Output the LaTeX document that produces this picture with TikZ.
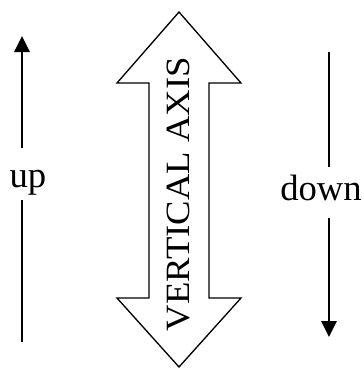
\documentclass[tikz,border=0pt]{standalone}
\usepackage{fontspec}
\setmainfont{Liberation Serif}
\usetikzlibrary{arrows.meta, positioning}

\begin{document}
\begin{tikzpicture}[x=0.75pt, y=-0.75pt,
    thinline/.style={line width=1.5pt},
    thinarrow/.style={thinline, -{Triangle[length=12pt, width=11.5pt]}},
    word/.style={font=\fontsize{27.5}{30}\selectfont, inner sep=0pt}]
    \useasboundingbox (0,0) rectangle (364,369);
    % left arrow, broken by its label
    \node[word, anchor=base] (up) at (28,187) {up};
    \coordinate (upTip) at (22,36);
    \coordinate (upGapA) at (22,148);
    \coordinate (upGapB) at (22,200);
    \coordinate (upFoot) at (22,342);
    \draw[thinarrow] (upGapA) -- (upTip);
    \draw[thinline] (upFoot) -- (upGapB);
    % big double arrow in the middle
    \draw[line width=1pt, line join=miter] (179,12) -- (241,83) -- (209,83) -- (209,298)
        -- (241,298) -- (179,367) -- (117,298) -- (149,298) -- (149,83) -- (117,83) -- cycle;
    \node[rotate=90, xscale=1.08, inner sep=0pt, font=\fontsize{25.5}{28}\selectfont] (axis) at (179,194) {VERTICAL AXIS};
    % right arrow, broken by its label
    \node[word, anchor=base] (down) at (321,200) {down};
    \coordinate (downTop) at (329,52);
    \coordinate (downGapA) at (329,167);
    \coordinate (downGapB) at (329,218);
    \coordinate (downTip) at (329,337);
    \draw[thinline] (downTop) -- (downGapA);
    \draw[thinarrow] (downGapB) -- (downTip);
\end{tikzpicture}
\end{document}
